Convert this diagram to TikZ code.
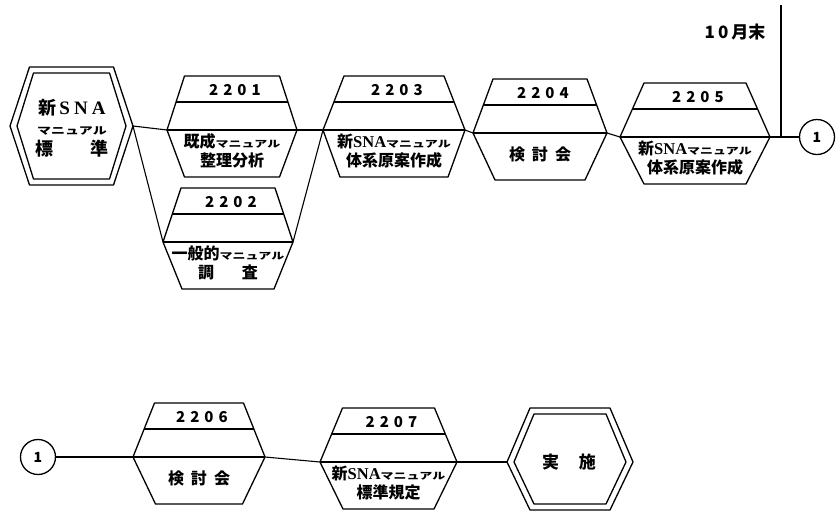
\documentclass[tikz,border=0pt]{standalone}
\usepackage{fontspec}
\usepackage{graphicx}
\setmainfont{Noto Sans CJK JP}
\newfontfamily\snaf{Liberation Serif}
\newcommand\manu[1][13]{\scalebox{1}[0.72]{\fontsize{#1}{#1}\selectfont マニュアル}}
\newcommand\sna{{\snaf\bfseries\fontsize{16.5}{16.5}\selectfont SNA}}
\newcommand\dg[4]{#1\kern5pt#2\kern5pt#3\kern5pt#4}
\begin{document}
\begin{tikzpicture}[x=1pt,y=-1pt,line join=round,
  boxline/.style={line width=1.3pt},
  conn/.style={line width=1.1pt},
  lbl/.style={font=\bfseries\fontsize{15}{15}\selectfont,inner sep=0pt},
  txt/.style={font=\bfseries\fontsize{16}{19.5}\selectfont,align=center,inner sep=0pt},
  num/.style={circle,draw,line width=1.3pt,minimum size=35pt,inner sep=0pt,font=\bfseries\fontsize{14}{14}\selectfont}]
\useasboundingbox (0,0) rectangle (838,515);

\newcommand\taskbox[8]{%
 \coordinate (#1L) at ({#2-#4},#3);
 \coordinate (#1R) at ({#2+#4},#3);
 \draw[boxline] ({#2-#5},{#3-54}) -- ({#2+#5},{#3-54}) -- (#1R) -- ({#2+#6},{#3+47}) -- ({#2-#6},{#3+47}) -- (#1L) -- cycle;
 \draw[boxline] ({#2-#5-(#4-#5)*26/54},{#3-28}) -- ({#2+#5+(#4-#5)*26/54},{#3-28});
 \draw[boxline] (#1L) -- (#1R);
 \node[lbl] (#1lab) at ({#2+3},{#3-40}) {#7};
 \node[txt] (#1txt) at (#2,{#3+21}) {#8};
}
\newcommand\dhex[7]{%
 \coordinate (#1L) at ({#2-#4},#3);
 \coordinate (#1R) at ({#2+#4},#3);
 \draw[boxline] ({#2-#5},{#3-#6}) -- ({#2+#5},{#3-#6}) -- (#1R) -- ({#2+#5},{#3+#7}) -- ({#2-#5},{#3+#7}) -- (#1L) -- cycle;
 \draw[boxline] ({#2-#5+4},{#3-#6+6}) -- ({#2+#5-4},{#3-#6+6}) -- ({#2+#4-7},#3) -- ({#2+#5-4},{#3+#7-6}) -- ({#2-#5+4},{#3+#7-6}) -- ({#2-#4+7},#3) -- cycle;
}

% start hexagon
\dhex{s}{71.5}{126}{61.5}{42}{59}{59}
\node[font=\bfseries\fontsize{18}{20.5}\selectfont,align=center,inner sep=0pt] (stxt) at (72,128)
  {新\kern3pt{\snaf\fontsize{19}{19}\selectfont S\kern4pt N\kern4pt A}\\ \manu[14]\\ 標\hspace{38pt}準};

% top row
\taskbox{b2201}{232}{130}{65}{47.5}{47.5}{\dg2201}{既成\manu\\整理分析}
\taskbox{b2202}{228}{242}{65}{47}{46}{\dg2202}{一般的\manu\\調\hspace{28pt}査}
\taskbox{b2203}{394}{130}{71}{50}{54}{\dg2203}{新\sna\manu\\体系原案作成}
\taskbox{b2204}{540}{133}{67}{47}{45}{\dg2204}{検\hspace{7pt}討\hspace{7pt}会}
\taskbox{b2205}{695}{137}{75}{51}{51}{\dg2205}{新\sna\manu\\体系原案作成}

\node[num] (c1a) at (817,137) {1};
\node[font=\bfseries\fontsize{17}{17}\selectfont,inner sep=0pt] (oct) at (735,32) {1\kern3pt0\kern3pt月末};
\coordinate (vt) at (781,5);
\coordinate (vb) at (781,137);

\draw[conn] (sR) -- (b2201L);
\draw[conn] (sR) -- (b2202L);
\draw[conn] (b2201R) -- (b2203L);
\draw[conn] (b2202R) -- (b2203L);
\draw[conn] (b2203R) -- (b2204L);
\draw[conn] (b2204R) -- (b2205L);
\draw[conn] (b2205R) -- (c1a);
\draw[conn] (vt) -- (vb);

% bottom row
\node[num] (c1b) at (38,457) {1};
\taskbox{b2206}{199}{457}{66}{44.5}{43.5}{\dg2206}{検\hspace{7pt}討\hspace{7pt}会}
\taskbox{b2207}{388.5}{462}{68.5}{46}{45.5}{\dg2207}{新\sna\manu\\標準規定}
\dhex{e}{570}{462}{63}{40}{54}{48}
\node[font=\bfseries\fontsize{17}{17}\selectfont,inner sep=0pt] (etxt) at (569,462) {実\hspace{20pt}施};

\draw[conn] (c1b) -- (b2206L);
\draw[conn] (b2206R) -- (b2207L);
\draw[conn] (b2207R) -- (eL);
\end{tikzpicture}
\end{document}
